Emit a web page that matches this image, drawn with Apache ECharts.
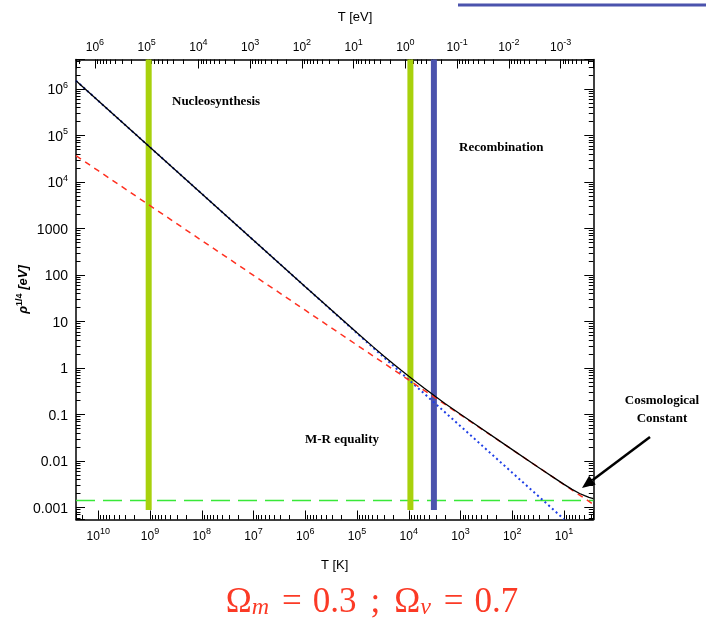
<!DOCTYPE html>
<html>
<head>
<meta charset="utf-8">
<script src="https://cdn.jsdelivr.net/npm/echarts@6/dist/echarts.min.js"></script>
<style>
  html, body { margin: 0; padding: 0; background: #fff; }
  #chart { width: 706px; height: 621px; }
</style>
</head>
<body>
<div id="chart"></div>
<script>
// Plot ranges: temperature in kelvin, energy density as rho^(1/4) in eV
const T_MIN_K = 2.72;
const T_MAX_K = 2.69e10;
const RHO_MIN = 5.52e-4;
const RHO_MAX = 4.32e6;
const K_TO_EV = 8.617e-5;

// Radiation component (blue dotted)
const radiationT   = [2.69e10, 1e10, 1e9, 1e8, 1e7, 1e6, 1e5, 1e4, 1e3, 1e2, 10];
const radiationRho = [1.51e6, 5.6e5, 5.6e4, 5600, 560, 56, 5.6, 0.56, 0.056, 0.0056, 5.6e-4];

// Matter component (red dashed)
const matterT   = [2.69e10, 1e10, 1e9, 1e8, 1e7, 1e6, 1e5, 1e4, 1e3, 1e2, 10, 2.72];
const matterRho = [3.68e4, 1.75e4, 3110, 553, 98.4, 17.5, 3.11, 0.553, 0.0984, 0.0175, 0.00311, 0.00117];

// Vacuum energy (green long dash)
const vacuumT   = [2.69e10, 2.72];
const vacuumRho = [0.00141, 0.00141];

// Total density (black)
const totalT   = [2.69e10, 1e10, 1e9, 1e8, 1e7, 1e6, 1e5, 5e4, 3e4, 2e4, 1.4e4, 1e4, 7e3, 5e3, 3e3, 2e3, 1e3, 1e2, 30, 15, 10, 7, 5, 4, 3.3, 2.72];
const totalRho = [1.51e6, 5.6e5, 5.6e4, 5600, 560, 56.1, 5.73, 2.92, 1.80, 1.234, 0.893, 0.662, 0.486, 0.366, 0.240, 0.173, 0.1009, 0.01755, 0.0071, 0.00423, 0.00314, 0.00245, 0.00200, 0.00180, 0.00166, 0.00156];

// Epoch markers (vertical bands)
const epochNames = ['Nucleosynthesis', 'M-R equality', 'Recombination'];
const epochT     = [1.06e9, 9.3e3, 3.27e3];
const epochColor = ['#a8d10c', '#a8d10c', '#4b53ad'];
const epochLow   = 8.8e-4;

function pairs(xs, ys) { return xs.map((x, i) => [x, ys[i]]); }

function decadeLabel(v, plainSmall) {
  const e = Math.log10(v);
  const n = Math.round(e);
  if (Math.abs(e - n) > 1e-6) return '';
  if (plainSmall && n >= -3 && n <= 3) {
    return '{b|' + (n < 0 ? Math.pow(10, n).toFixed(-n) : String(Math.pow(10, n))) + '}';
  }
  return '{b|10}{s|' + n + '}';
}

function richFor(base, sup) {
  return {
    b: { fontSize: base, fontFamily: 'Liberation Sans', color: '#000', lineHeight: base + 3, verticalAlign: 'bottom' },
    s: { fontSize: sup, fontFamily: 'Liberation Sans', color: '#000', lineHeight: sup, verticalAlign: 'top' }
  };
}

const frameLine = { show: true, lineStyle: { color: '#000', width: 1.5 } };
const majorTick = { show: true, inside: true, length: 9, lineStyle: { color: '#000', width: 1 } };
const minorTick = { show: true, splitNumber: 9, length: 4.5, lineStyle: { color: '#000', width: 1 } };

const chart = echarts.init(document.getElementById('chart'), null, { renderer: 'canvas' });

const series = [
  {
    type: 'line', name: 'vacuum', data: pairs(vacuumT, vacuumRho),
    showSymbol: false, silent: true, z: 2,
    lineStyle: { color: '#38e838', width: 1.5, type: [19, 8] }
  }
];
epochT.forEach((t, i) => {
  series.push({
    type: 'line', name: epochNames[i], data: [[t, RHO_MAX], [t, epochLow]],
    showSymbol: false, silent: true, z: 3,
    lineStyle: { color: epochColor[i], width: 6, cap: 'butt' }
  });
});
series.push(
  {
    type: 'line', name: 'radiation', data: pairs(radiationT, radiationRho),
    showSymbol: false, silent: true, z: 4,
    lineStyle: { color: '#1f3fe6', width: 2, type: [2, 3] }
  },
  {
    type: 'line', name: 'matter', data: pairs(matterT, matterRho),
    showSymbol: false, silent: true, z: 5,
    lineStyle: { color: '#ff3020', width: 1.5, type: [6, 5] }
  },
  {
    type: 'line', name: 'total', data: pairs(totalT, totalRho),
    showSymbol: false, silent: true, z: 6,
    lineStyle: { color: '#000', width: 1.3 }
  }
);

// Arrow pointing at the late-time flattening
const arrowTail = [650, 437];
const arrowTip = [582, 488];
const dx = arrowTip[0] - arrowTail[0], dy = arrowTip[1] - arrowTail[1];
const len = Math.hypot(dx, dy), ux = dx / len, uy = dy / len;
const headLen = 13, headHalf = 5.5;
const baseX = arrowTip[0] - ux * headLen, baseY = arrowTip[1] - uy * headLen;

const serifBold = { fontFamily: 'Liberation Serif', fontWeight: 'bold', fontSize: 13, fill: '#000' };
const formulaRed = '#fb3a26';

chart.setOption({
  animation: false,
  backgroundColor: '#fff',
  grid: { left: 76, right: 112.7, top: 59.5, bottom: 101.5, containLabel: false },
  xAxis: [
    {
      type: 'log', position: 'bottom', inverse: true,
      min: T_MIN_K, max: T_MAX_K, splitNumber: 10,
      name: 'T [K]', nameLocation: 'middle', nameGap: 39, nameMoveOverlap: false,
      nameTextStyle: { fontFamily: 'Liberation Sans', fontSize: 13, color: '#000' },
      axisLine: frameLine, axisTick: majorTick, minorTick: minorTick,
      splitLine: { show: false },
      axisLabel: {
        margin: 8, formatter: v => decadeLabel(v, false), rich: richFor(12, 9),
        showMinLabel: false, showMaxLabel: false
      }
    },
    {
      type: 'log', position: 'top', inverse: true,
      min: T_MIN_K * K_TO_EV, max: T_MAX_K * K_TO_EV, splitNumber: 10,
      axisLine: frameLine, axisTick: majorTick, minorTick: minorTick,
      splitLine: { show: false },
      axisLabel: {
        margin: 6, formatter: v => decadeLabel(v, false), rich: richFor(12, 9),
        showMinLabel: false, showMaxLabel: false
      }
    }
  ],
  yAxis: [
    {
      type: 'log', position: 'left',
      min: RHO_MIN, max: RHO_MAX, splitNumber: 10,
      name: '{r|ρ}{s|1/4}{r| [eV]}', nameLocation: 'middle', nameGap: 46, nameRotate: 90,
      nameMoveOverlap: false,
      nameTextStyle: {
        rich: {
          r: { fontFamily: 'Liberation Sans', fontWeight: 'bold', fontStyle: 'italic', fontSize: 13, color: '#000', lineHeight: 15, verticalAlign: 'bottom' },
          s: { fontFamily: 'Liberation Sans', fontWeight: 'bold', fontSize: 9, color: '#000', lineHeight: 9, verticalAlign: 'top' }
        }
      },
      axisLine: frameLine, axisTick: majorTick, minorTick: minorTick,
      splitLine: { show: false },
      axisLabel: {
        margin: 8, formatter: v => decadeLabel(v, true), rich: richFor(14, 9),
        showMinLabel: false, showMaxLabel: false
      }
    },
    {
      type: 'log', position: 'right',
      min: RHO_MIN, max: RHO_MAX, splitNumber: 10,
      axisLine: frameLine, axisTick: majorTick, minorTick: minorTick,
      splitLine: { show: false },
      axisLabel: { show: false }
    }
  ],
  series: series,
  graphic: [
    { type: 'text', style: { text: 'T [eV]', x: 355, y: 17, align: 'center', verticalAlign: 'middle', fontFamily: 'Liberation Sans', fontSize: 13, fill: '#000' } },
    { type: 'line', shape: { x1: 458, y1: 5, x2: 706, y2: 5 }, style: { stroke: '#4b53ad', lineWidth: 3 } },
    { type: 'text', style: Object.assign({ text: 'Nucleosynthesis', x: 172, y: 102, verticalAlign: 'middle' }, serifBold) },
    { type: 'text', style: Object.assign({ text: 'Recombination', x: 459, y: 148, verticalAlign: 'middle' }, serifBold) },
    { type: 'text', style: Object.assign({ text: 'M-R equality', x: 305, y: 440, verticalAlign: 'middle' }, serifBold) },
    { type: 'text', style: Object.assign({ text: 'Cosmological\nConstant', x: 662, y: 410, align: 'center', verticalAlign: 'middle', lineHeight: 18 }, serifBold) },
    { type: 'line', shape: { x1: arrowTail[0], y1: arrowTail[1], x2: baseX, y2: baseY }, style: { stroke: '#000', lineWidth: 2.5 } },
    { type: 'polygon', shape: { points: [arrowTip, [baseX - uy * headHalf, baseY + ux * headHalf], [baseX + uy * headHalf, baseY - ux * headHalf]] }, style: { fill: '#000' } },
    {
      type: 'text',
      style: {
        text: '{o|Ω}{i|m}{e|=}{o|0.3}{c|;}{o|Ω}{i|v}{e|=}{o|0.7}',
        x: 372, y: 601, align: 'center', verticalAlign: 'middle',
        rich: {
          o: { fontFamily: 'Liberation Serif', fontSize: 35, fill: formulaRed, lineHeight: 38, verticalAlign: 'bottom' },
          i: { fontFamily: 'Liberation Serif', fontStyle: 'italic', fontSize: 24, fill: formulaRed, lineHeight: 30, verticalAlign: 'bottom', padding: [0, 2, 0, 0] },
          e: { fontFamily: 'Liberation Serif', fontSize: 35, fill: formulaRed, lineHeight: 38, verticalAlign: 'bottom', padding: [0, 11, 0, 11] },
          c: { fontFamily: 'Liberation Serif', fontSize: 35, fill: formulaRed, lineHeight: 38, verticalAlign: 'bottom', padding: [0, 14, 0, 14] }
        }
      }
    }
  ]
});
</script>
</body>
</html>
